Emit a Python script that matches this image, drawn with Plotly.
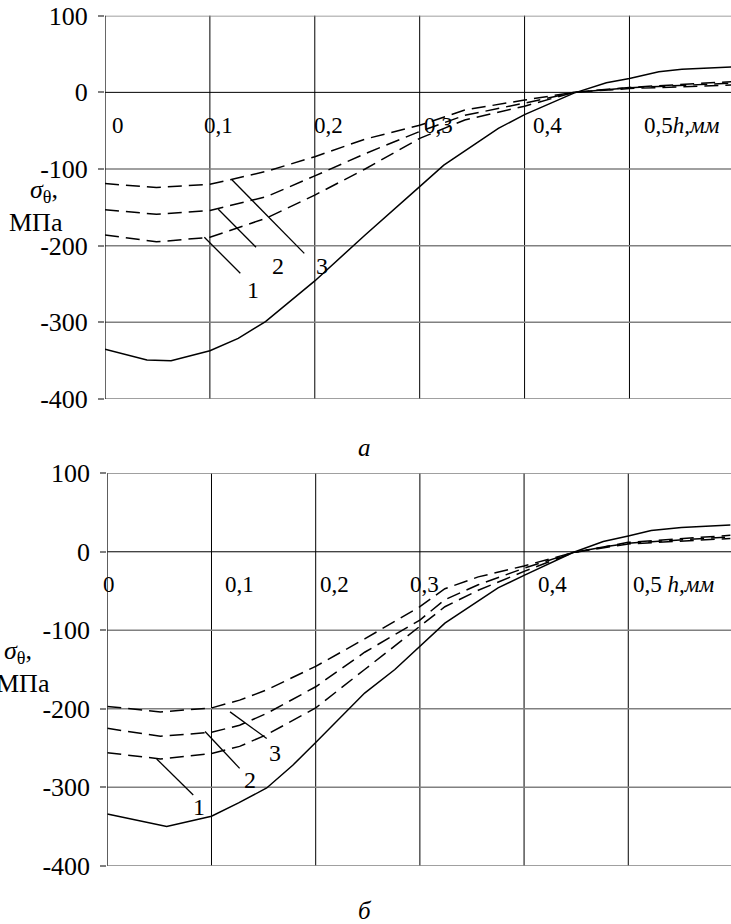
import plotly.graph_objects as go

FONT = "Liberation Serif, Times New Roman, DejaVu Serif, serif"

# ---------------- data: panel (a) ----------------
h_a_solid = [0.0, 0.04, 0.063, 0.1, 0.127, 0.153, 0.2, 0.248, 0.3, 0.323, 0.375, 0.4, 0.447, 0.478, 0.5, 0.528, 0.55, 0.597]
s_a_solid = [-335, -349, -350, -337, -321, -299, -246, -186, -123, -95, -47, -29, -1, 12.5, 18, 27, 30, 33]

h_a_dash = [0.0, 0.049, 0.1, 0.154, 0.2, 0.248, 0.3, 0.343, 0.4, 0.447, 0.5, 0.597]
s_a_1 = [-186, -195, -189, -164, -134, -100, -60, -36, -18, 0, 5, 9.5]
s_a_2 = [-153, -159, -154, -136, -109, -80, -51, -30, -14, 0, 6, 12]
s_a_3 = [-119, -124, -120, -103, -84, -61, -43, -23, -10, 0, 6.5, 14]

# ---------------- data: panel (б) ----------------
h_b_solid = [0.0, 0.057, 0.1, 0.126, 0.153, 0.178, 0.2, 0.247, 0.276, 0.3, 0.324, 0.375, 0.4, 0.447, 0.476, 0.5, 0.522, 0.551, 0.598]
s_b_solid = [-334, -350, -337, -320, -301, -272, -243, -180, -150, -121, -91, -46, -30, -1, 13, 20, 27, 31, 34]

h_b_dash = [0.0, 0.051, 0.1, 0.127, 0.153, 0.2, 0.247, 0.3, 0.324, 0.356, 0.4, 0.447, 0.476, 0.5, 0.598]
s_b_1 = [-256, -264, -257, -248, -233, -199, -150, -95, -70, -49, -25, -1, 5, 10, 17]
s_b_2 = [-225, -235, -230, -221, -206, -172, -128, -87, -61, -42, -21, -1, 6, 11, 19]
s_b_3 = [-197, -204, -199, -189, -176, -146, -111, -70, -47, -32, -18, -1, 6, 12, 21]

# ---------------- ticks / labels ----------------
y_ticks = [-400, -300, -200, -100, 0, 100]
y_tick_text = ["-400", "-300", "-200", "-100", "0", "100"]
x_grid = [0.0, 0.1, 0.2, 0.3, 0.4, 0.5]

x_lab_a_pos = [0.0124, 0.108, 0.213, 0.318, 0.422]
x_lab_b_pos = [0.0012, 0.1264, 0.2185, 0.304, 0.427]
x_lab_text = ["0", "0,1", "0,2", "0,3", "0,4"]
x_last_a = (0.5116, "0,5<i>h,мм</i>")
x_last_b = (0.503, "0,5 <i>h,мм</i>")

curve_names = ["1", "2", "3"]
# leader lines: (x0, y0, x1, y1, label_x, label_y)
leaders_a = [(0.0947, -189, 0.129, -236, 0.141, -258),
             (0.108, -152.5, 0.144, -202, 0.165, -227),
             (0.121, -114, 0.19, -210, 0.2066, -227)]
leaders_b = [(0.0474, -264, 0.0825, -310, 0.088, -325),
             (0.0938, -229, 0.127, -276, 0.137, -291),
             (0.1178, -204, 0.153, -238, 0.161, -257)]

W, H = 731, 924
fig = go.Figure()

DASH = "14px,7px"
line_solid = dict(color="black", width=1.5)
line_dash = dict(color="black", width=1.5, dash=DASH)

for xa, ya, hs, ss, hd, d1, d2, d3 in [
    ("x", "y", h_a_solid, s_a_solid, h_a_dash, s_a_1, s_a_2, s_a_3),
    ("x2", "y2", h_b_solid, s_b_solid, h_b_dash, s_b_1, s_b_2, s_b_3),
]:
    fig.add_trace(go.Scatter(x=hs, y=ss, mode="lines", line=line_solid, xaxis=xa, yaxis=ya, showlegend=False,
                             cliponaxis=False))
    for d in (d1, d2, d3):
        fig.add_trace(go.Scatter(x=hd, y=d, mode="lines", line=line_dash, xaxis=xa, yaxis=ya, showlegend=False))

ann = []
shapes = []
ytick_font = dict(family=FONT, size=26, color="black")
xlab_font = dict(family=FONT, size=23, color="black")
num_font = dict(family=FONT, size=24, color="black")

def panel(xr, yr, lab_pos, last, lab_y, leaders):
    for p, t in zip(lab_pos, x_lab_text):
        ann.append(dict(x=p, y=lab_y, xref=xr, yref=yr, text=t, showarrow=False,
                        font=xlab_font, xanchor="center", yanchor="middle"))
    ann.append(dict(x=last[0], y=lab_y, xref=xr, yref=yr, text=last[1], showarrow=False,
                    font=xlab_font, xanchor="left", yanchor="middle"))
    for (x0, y0, x1, y1, lx, ly), name in zip(leaders, curve_names):
        shapes.append(dict(type="line", xref=xr, yref=yr, x0=x0, y0=y0, x1=x1, y1=y1,
                           line=dict(color="black", width=1.3)))
        ann.append(dict(x=lx, y=ly, xref=xr, yref=yr, text=name, showarrow=False,
                        font=num_font, xanchor="center", yanchor="middle"))
    # vertical grid lines (black)
    for g in x_grid[1:]:
        shapes.append(dict(type="line", xref=xr, yref=yr + " domain", x0=g, x1=g, y0=0, y1=1,
                           line=dict(color="black", width=1), layer="below"))
    # horizontal grid lines (gray, zero black)
    for v in y_ticks:
        col, wd = ("black", 1) if v == 0 else ("#808080", 1.5)
        shapes.append(dict(type="line", xref=xr + " domain", yref=yr, x0=0, x1=1, y0=v, y1=v,
                           line=dict(color=col, width=wd), layer="below"))

panel("x", "y", x_lab_a_pos, x_last_a, -43, leaders_a)
panel("x2", "y2", x_lab_b_pos, x_last_b, -42, leaders_b)

def paper(px, py, text, size=26, anchor="center"):
    ann.append(dict(x=px / W, y=1 - py / H, xref="paper", yref="paper", text=text, showarrow=False,
                    font=dict(family=FONT, size=size, color="black"), xanchor=anchor, yanchor="middle"))

paper(44, 191, "<i>σ</i><sub>θ</sub>,")
paper(36, 223, "МПа")
paper(18, 652, "<i>σ</i><sub>θ</sub>,")
paper(23, 683, "МПа")
paper(364, 447, "<i>а</i>", size=25)
paper(365, 910, "<i>б</i>", size=25)

yaxis_common = dict(range=[-400, 100], tickvals=y_ticks, ticktext=y_tick_text, tickfont=ytick_font,
                    showgrid=False, zeroline=False,
                    ticks="outside", ticklen=6, tickcolor="#808080", tickwidth=1.5,
                    showline=False, ticklabelstandoff=5,
                    fixedrange=True, automargin=False)
xaxis_common = dict(showgrid=False, zeroline=False, showticklabels=False, ticks="",
                    showline=False, fixedrange=True, automargin=False)

fig.update_layout(
    width=W, height=H, autosize=False,
    font=dict(family=FONT, color="black"),
    margin=dict(l=0, r=0, t=0, b=0, pad=0, autoexpand=False),
    paper_bgcolor="white", plot_bgcolor="white",
    xaxis=dict(domain=[105 / W, 1], range=[0, 0.5968], anchor="y", **xaxis_common),
    yaxis=dict(domain=[1 - 399 / H, 1 - 15.7 / H], anchor="x", **yaxis_common),
    xaxis2=dict(domain=[107.3 / W, 1], range=[0, 0.5986], anchor="y2", **xaxis_common),
    yaxis2=dict(domain=[1 - 865.7 / H, 1 - 473.3 / H], anchor="x2", **yaxis_common),
    annotations=ann,
    shapes=shapes,
    showlegend=False,
)
for xr, yr in (("x", "y"), ("x2", "y2")):
    fig.add_shape(type="line", xref=xr, yref=yr + " domain", x0=0, x1=0, y0=0, y1=1,
                  line=dict(color="black", width=1.2))

fig.write_html("out.html", config={"displayModeBar": False},
               post_script="document.body.style.margin='0';document.body.style.overflow='hidden';")
